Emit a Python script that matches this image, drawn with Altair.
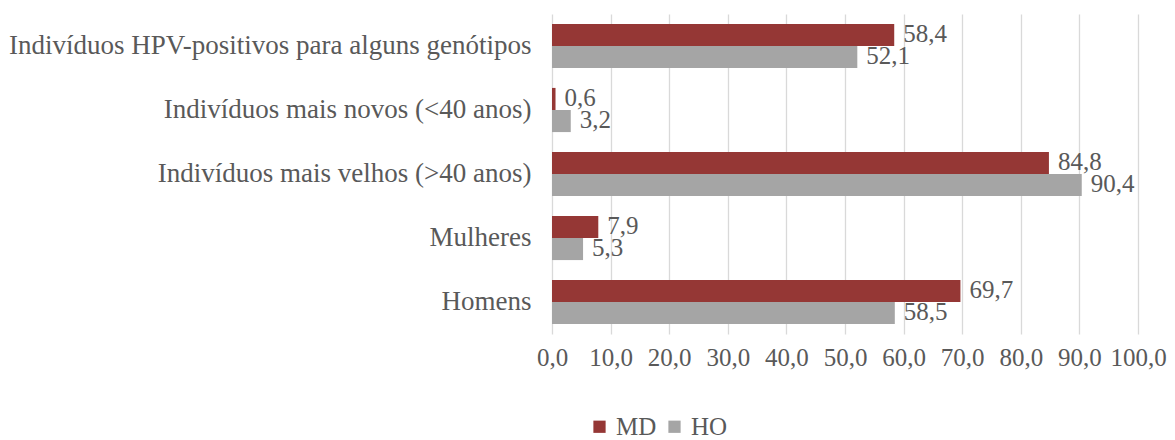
import altair as alt
import pandas as pd

categories = [
    "Indivíduos HPV-positivos para alguns genótipos",
    "Indivíduos mais novos (<40 anos)",
    "Indivíduos mais velhos (>40 anos)",
    "Mulheres",
    "Homens",
]
series = ["MD", "HO"]
md_values = [58.4, 0.6, 84.8, 7.9, 69.7]
ho_values = [52.1, 3.2, 90.4, 5.3, 58.5]
colors = ["#953735", "#A5A5A5"]

rows = []
for c, m, h in zip(categories, md_values, ho_values):
    rows.append({"cat": c, "serie": "MD", "val": m})
    rows.append({"cat": c, "serie": "HO", "val": h})
df = pd.DataFrame(rows)

FONT = "Liberation Serif, Times New Roman, serif"
TXT = "#595959"

y_enc = alt.Y("cat:N", sort=categories, title=None,
              scale=alt.Scale(paddingInner=0.31, paddingOuter=0.155),
              axis=alt.Axis(labelFontSize=27, labelFont=FONT, labelColor=TXT,
                            labelLimit=700, ticks=False, domain=False,
                            labelPadding=21, grid=False))
yoff = alt.YOffset("serie:N", sort=series)

base = alt.Chart(df)

bars = base.mark_bar().encode(
    x=alt.X("val:Q", title=None,
            scale=alt.Scale(domain=[0, 100], nice=False),
            axis=alt.Axis(values=list(range(0, 101, 10)),
                          labelExpr="replace(format(datum.value, '.1f'), '.', ',')",
                          labelFontSize=25, labelFont=FONT, labelColor=TXT,
                          labelOverlap=False, labelBound=False, labelFlush=False,
                          labelPadding=11, ticks=False, domain=False,
                          grid=True, gridColor="#D9D9D9", gridWidth=1.3)),
    y=y_enc,
    yOffset=yoff,
    color=alt.Color("serie:N", sort=series,
                    scale=alt.Scale(domain=series, range=colors),
                    legend=alt.Legend(title=None, orient="none", direction="horizontal",
                                      legendX=35, legendY=400, padding=0,
                                      symbolType="square", symbolSize=150,
                                      symbolStrokeWidth=0,
                                      labelFontSize=25, labelFont=FONT, labelColor=TXT,
                                      columnPadding=5, labelOffset=4)),
)

labels = base.transform_calculate(
    lbl="replace(format(datum.val, '.1f'), '.', ',')"
).mark_text(align="left", baseline="middle", dx=9, dy=-1, fontSize=25,
            font=FONT, color=TXT).encode(
    x="val:Q",
    y=alt.Y("cat:N", sort=categories),
    yOffset=yoff,
    text="lbl:N",
)

chart = alt.layer(bars, labels).properties(
    width=586, height=320,
    autosize=alt.AutoSizeParams(type="none"),
    padding={"left": 544, "top": 6, "right": 29, "bottom": 106},
).configure_view(stroke=None).configure_axis(labelFont=FONT).configure_legend(labelFont=FONT)

chart.save("out.html", embed_options={"renderer": "svg", "actions": False})
